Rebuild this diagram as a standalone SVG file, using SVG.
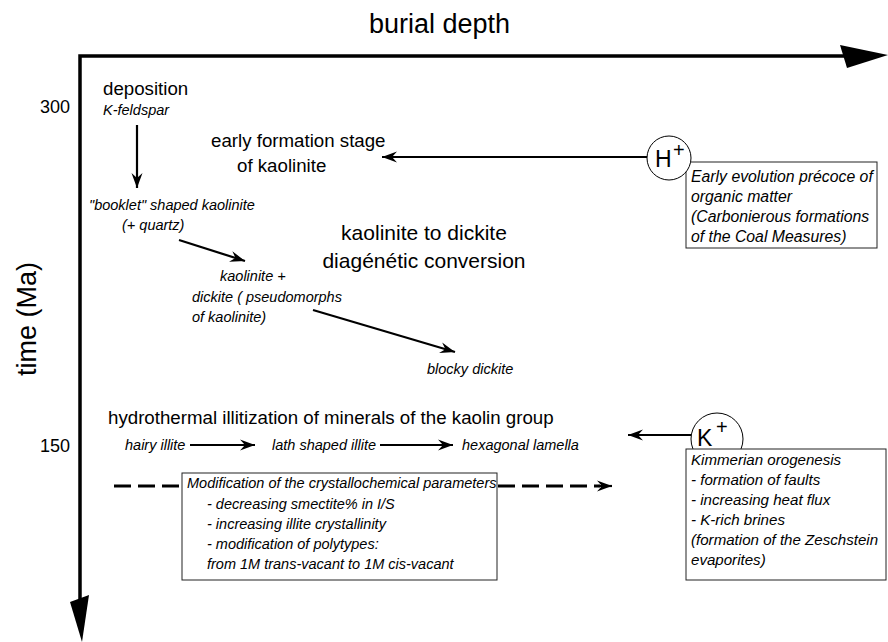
<svg xmlns="http://www.w3.org/2000/svg" width="888" height="642" viewBox="0 0 888 642">
  <defs>
    <marker id="head" markerUnits="userSpaceOnUse" markerWidth="16" markerHeight="12" refX="15" refY="6" orient="auto">
      <path d="M0,0.5 L15,6 L0,11.5 L5,6 z" fill="#000"/>
    </marker>
    <style>
      text { font-family: "Liberation Sans", Arial, sans-serif; fill: #000; }
      .big { font-size: 27px; }
      .mid { font-size: 18.7px; }
      .lg { font-size: 21px; }
      .it { font-size: 14.5px; font-style: italic; }
      .it-h { font-size: 15.8px; font-style: italic; }
      .it-k { font-size: 15.1px; font-style: italic; }
      .num { font-size: 18px; }
      .ionlbl { font-size: 23px; }
      .sup { font-size: 20px; }
      .axis { stroke: #000; stroke-width: 3.5; fill: none; }
      .arr { stroke: #000; stroke-width: 2.2; fill: none; marker-end: url(#head); }
      .dash { stroke: #000; stroke-width: 3; fill: none; stroke-dasharray: 17 7; }
      .box { fill: #fff; stroke: #222; stroke-width: 1; }
      .ion { fill: #fff; stroke: #000; stroke-width: 1; }
    </style>
  </defs>

  <!-- axes: burial depth (horizontal) and time (vertical) -->
  <g id="axes">
    <path class="axis" d="M80,600 V56 H846"/>
    <polygon points="840,45 888,55 847,68" fill="#000"/>
    <polygon points="70,602 89,595 82,642" fill="#000"/>
    <text class="big" x="369" y="33">burial depth</text>
    <text class="big" transform="translate(36,319) rotate(-90)" text-anchor="middle">time (Ma)</text>
    <text class="num" x="40" y="113">300</text>
    <text class="num" x="40" y="452">150</text>
  </g>

  <!-- connectors -->
  <g id="connectors">
    <line class="arr" x1="137" y1="125" x2="137" y2="188"/>
    <line class="arr" x1="179" y1="240" x2="245" y2="261"/>
    <line class="arr" x1="313" y1="310" x2="455" y2="352"/>
    <line class="arr" x1="648" y1="157" x2="382" y2="157"/>
    <line class="arr" x1="691" y1="435" x2="628" y2="435"/>
    <line class="arr" x1="190" y1="445" x2="255" y2="445"/>
    <line class="arr" x1="380" y1="445" x2="453" y2="445"/>
    <line class="dash" x1="114" y1="486" x2="600" y2="486"/>
    <line class="arr" x1="598" y1="486" x2="612" y2="486"/>
  </g>

  <g id="deposition">
    <text class="mid" x="103" y="95">deposition</text>
    <text class="it" x="103" y="115">K-feldspar</text>
  </g>

  <g id="early-kaolinite">
    <text class="mid" x="211" y="147">early formation stage</text>
    <text class="mid" x="237" y="172">of kaolinite</text>
  </g>

  <g id="booklet-kaolinite">
    <text class="it" x="89" y="210">"booklet" shaped kaolinite</text>
    <text class="it" x="122" y="230">(+ quartz)</text>
  </g>

  <g id="kaolinite-dickite">
    <text class="it" x="220" y="281">kaolinite +</text>
    <text class="it" x="192" y="302">dickite ( pseudomorphs</text>
    <text class="it" x="192" y="322">of kaolinite)</text>
  </g>

  <g id="conversion">
    <text class="lg" x="424" y="240" text-anchor="middle">kaolinite to dickite</text>
    <text class="lg" x="424" y="268" text-anchor="middle">diagénétic conversion</text>
  </g>

  <g id="blocky-dickite">
    <text class="it" x="427" y="374">blocky dickite</text>
  </g>

  <g id="illitization">
    <text class="mid" x="108" y="424">hydrothermal illitization of minerals of the kaolin group</text>
  </g>

  <g id="hairy-illite">
    <text class="it" x="125" y="450">hairy illite</text>
  </g>
  <g id="lath-illite">
    <text class="it" x="272" y="450">lath shaped illite</text>
  </g>
  <g id="hexagonal-lamella">
    <text class="it" x="462" y="450">hexagonal lamella</text>
  </g>

  <g id="crystallochemical">
    <rect class="box" x="182" y="473" width="315" height="107"/>
    <text class="it" x="187" y="488">Modification of the crystallochemical parameters</text>
    <text class="it" x="207" y="509">- decreasing smectite% in I/S</text>
    <text class="it" x="207" y="529">- increasing illite crystallinity</text>
    <text class="it" x="207" y="549">- modification of polytypes:</text>
    <text class="it" x="207" y="569">from 1M trans-vacant  to 1M cis-vacant</text>
  </g>

  <g id="organic-matter">
    <rect class="box" x="686" y="162" width="191" height="86"/>
    <text class="it-h" x="691" y="182">Early evolution précoce of</text>
    <text class="it-h" x="691" y="202">organic matter</text>
    <text class="it-h" x="691" y="222">(Carbonierous formations</text>
    <text class="it-h" x="691" y="242">of the Coal Measures)</text>
  </g>
  <g id="proton">
    <circle class="ion" cx="669" cy="158" r="22"/>
    <text class="ionlbl" x="655" y="167">H</text>
    <text class="sup" x="673" y="157">+</text>
  </g>

  <g id="potassium">
    <circle class="ion" cx="717" cy="439" r="26"/>
    <text class="ionlbl" x="697" y="446">K</text>
    <text class="sup" x="716" y="434">+</text>
  </g>
  <g id="kimmerian">
    <rect class="box" x="686" y="449" width="200" height="131"/>
    <text class="it-k" x="691" y="465">Kimmerian orogenesis</text>
    <text class="it-k" x="691" y="485">- formation of faults</text>
    <text class="it-k" x="691" y="505">- increasing heat flux</text>
    <text class="it-k" x="691" y="525">- K-rich brines</text>
    <text class="it-k" x="691" y="545">(formation of the Zeschstein</text>
    <text class="it-k" x="691" y="565">evaporites)</text>
  </g>
</svg>
